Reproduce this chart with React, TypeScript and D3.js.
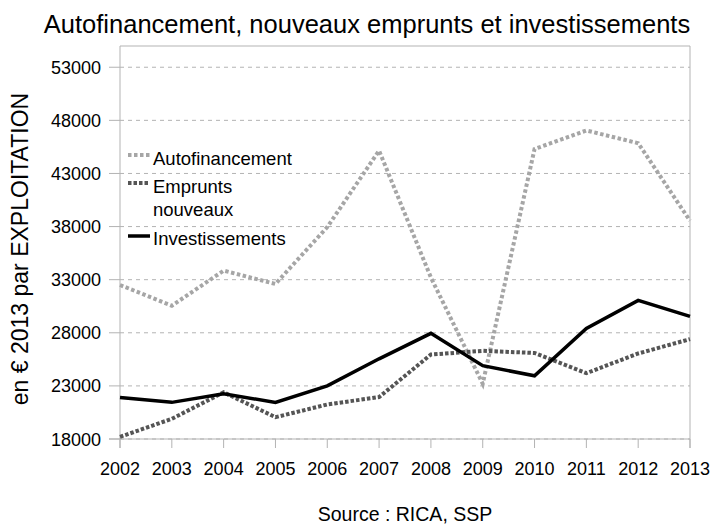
import React from "react";
import * as d3 from "d3";

const years = [2002, 2003, 2004, 2005, 2006, 2007, 2008, 2009, 2010, 2011, 2012, 2013];
const autofinancement = [32500, 30550, 33850, 32600, 37950, 45150, 33200, 23200, 45300, 47050, 45850, 38550];
const emprunts = [18200, 19900, 22400, 20050, 21250, 21950, 25950, 26300, 26100, 24200, 26050, 27400];
const investissements = [21900, 21450, 22250, 21450, 23000, 25550, 27950, 24900, 23950, 28400, 31050, 29550];
const yTicks = [18000, 23000, 28000, 33000, 38000, 43000, 48000, 53000];

const font = "Liberation Sans, Arial, sans-serif";

export default function App() {
  const W = 719, H = 529;
  const left = 120, right = 690, top = 46, bottom = 439;
  const x = d3.scaleLinear().domain([2002, 2013]).range([left, right]);
  const y = d3.scaleLinear().domain([18000, 55000]).range([bottom, top]);
  const line = d3.line<number>().x((_, i) => x(years[i])).y((d) => y(d));

  const series = [
    { name: ["Autofinancement"], data: autofinancement, color: "#a6a6a6", width: 4, dash: "3.5 2.5" },
    { name: ["Emprunts", "nouveaux"], data: emprunts, color: "#555555", width: 4, dash: "3.5 2" },
    { name: ["Investissements"], data: investissements, color: "#000000", width: 3.5, dash: null as string | null },
  ];
  const legendLineY = [155, 183, 236];
  const legendTextY = [165, 193, 245];

  return (
    <svg width={W} height={H} style={{ position: "absolute", left: 0, top: 0, background: "#fff" }} fontFamily={font}>
      <rect x={0} y={0} width={W} height={H} fill="#fff" />
      <text x={367} y={33} textAnchor="middle" fontSize={25.5} fill="#000">
        Autofinancement, nouveaux emprunts et investissements
      </text>
      {/* grid */}
      {yTicks.map((t) => (
        <line key={t} x1={left} x2={right} y1={y(t)} y2={y(t)} stroke="#b3b3b3" strokeDasharray="4 4" strokeWidth={1} />
      ))}
      {/* frame */}
      <line x1={left} x2={right} y1={top} y2={top} stroke="#b3b3b3" />
      <line x1={right} x2={right} y1={top} y2={bottom + 9} stroke="#b3b3b3" />
      <line x1={left} x2={left} y1={top} y2={bottom + 9} stroke="#b3b3b3" />
      <line x1={left - 11} x2={right} y1={bottom} y2={bottom} stroke="#b3b3b3" />
      {yTicks.map((t) => (
        <g key={t}>
          <line x1={left - 11} x2={left} y1={y(t)} y2={y(t)} stroke="#b3b3b3" />
          <text x={101} y={y(t) + 6.5} textAnchor="end" fontSize={18} fill="#000">
            {t}
          </text>
        </g>
      ))}
      {years.map((yr) => (
        <g key={yr}>
          <line x1={x(yr)} x2={x(yr)} y1={bottom} y2={bottom + 9} stroke="#b3b3b3" />
          <text x={x(yr)} y={bottom + 36} textAnchor="middle" fontSize={18} fill="#000">
            {yr}
          </text>
        </g>
      ))}
      <text transform={`translate(28,249) rotate(-90)`} textAnchor="middle" fontSize={23} fill="#000">
        en € 2013 par EXPLOITATION
      </text>
      {/* lines */}
      {series.map((s, i) => (
        <path
          key={i}
          d={line(s.data) || ""}
          fill="none"
          stroke={s.color}
          strokeWidth={s.width}
          strokeDasharray={s.dash || undefined}
          strokeLinejoin="miter"
        />
      ))}
      {/* legend */}
      {series.map((s, i) => (
        <g key={i}>
          <line
            x1={128}
            x2={150}
            y1={legendLineY[i]}
            y2={legendLineY[i]}
            stroke={s.color}
            strokeWidth={s.width}
            strokeDasharray={s.dash || undefined}
          />
          {s.name.map((n, j) => (
            <text key={j} x={153} y={legendTextY[i] + j * 23} fontSize={18.5} fill="#000">
              {n}
            </text>
          ))}
        </g>
      ))}
      <text x={405} y={521} textAnchor="middle" fontSize={19.5} fill="#000">
        Source : RICA, SSP
      </text>
    </svg>
  );
}
